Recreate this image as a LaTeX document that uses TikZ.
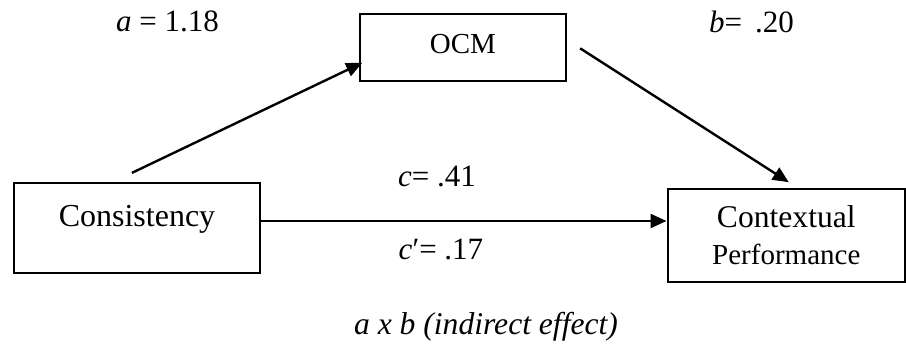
\documentclass[tikz,border=0pt]{standalone}
\usepackage{fontspec}
\setmainfont{Liberation Serif}
\usepackage{tikz}
\usetikzlibrary{calc,arrows.meta,positioning}
\definecolor{linec}{HTML}{000000}
\tikzset{
  ar/.style={-{Triangle[length=8pt,width=7pt]},line width=1.2pt,linec},
  box/.style={draw=linec,line width=1.1pt,align=center,inner sep=0pt},
  lbl/.style={anchor=base,inner sep=0pt,font=\fontsize{15.5}{18}\selectfont}
}
\begin{document}
\begin{tikzpicture}[x=0.5pt,y=0.5pt]
\useasboundingbox (0,0) rectangle (906,348);
\node[box,minimum width=123pt,minimum height=45pt,text height=11pt,text depth=12.3pt,font=\fontsize{16}{19}\selectfont] (cons) at (137,120) {Consistency};
\node[box,minimum width=103pt,minimum height=33.2pt,text height=10pt,text depth=4.2pt,font=\fontsize{14.5}{16}\selectfont] (ocm) at (463,300.5) {OCM};
\node[box,minimum width=118.7pt,minimum height=46.5pt,font=\fontsize{15.8}{18.8}\selectfont] (ctx) at (786.3,112.8) {Contextual\\{\fontsize{14.5}{18.8}\selectfont Performance}};
\coordinate (aS) at ($(cons.north west)+(119,9)$);
\coordinate (aE) at ($(ocm.south west)+(3.3,19)$);
\coordinate (bS) at ($(ocm.east)+(13,-0.8)$);
\coordinate (bE) at ($(ctx.north west)+(122.3,5.4)$);
\coordinate (cS) at ($(cons.east)+(0,7)$);
\draw[ar] (aS) -- (aE);
\draw[ar] (bS) -- (bE);
\draw[ar] (cS) -- (cS -| ctx.west);
\node[lbl] (la) at (167.5,316) {\itshape a\upshape\ = 1.18};
\node[lbl] (lb) at (751.5,315) {\itshape b\upshape= \,.20};
\node[lbl] (lc) at (437,161) {\itshape c\upshape= .41};
\node[lbl] (lcp) at (441,88) {\itshape c\upshape′= .17};
\node[lbl,font=\fontsize{15.8}{18}\selectfont\itshape] (lab) at (486,13) {a x b (indirect effect)};
\end{tikzpicture}
\end{document}
